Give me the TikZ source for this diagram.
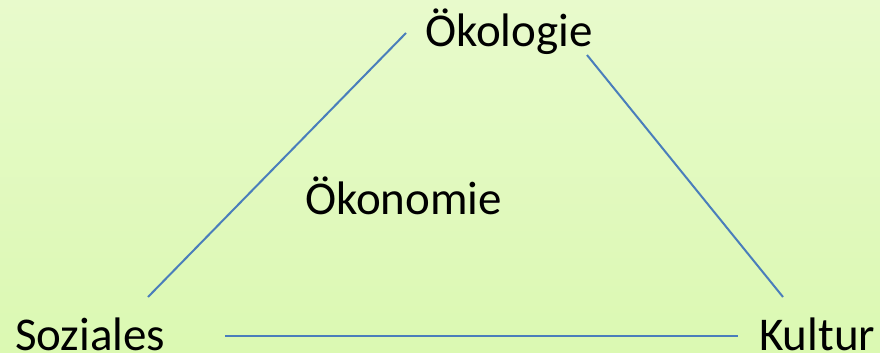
\documentclass[tikz,border=0pt]{standalone}
\usepackage{fontspec}
\setmainfont{Carlito}
\definecolor{bgtop}{RGB}{232,250,204}
\definecolor{bgbot}{RGB}{219,249,178}
\definecolor{linecol}{RGB}{74,126,187}
\begin{document}
\begin{tikzpicture}[x=1pt,y=-1pt,
  lbl/.style={inner sep=0pt,anchor=base west,font=\fontsize{47}{51}\selectfont,text=black},
  edge/.style={draw=linecol,line width=2pt}]
\shade[top color=bgtop,bottom color=bgbot] (0,0) rectangle (880,353);
\useasboundingbox (0,0) rectangle (880,353);
\node[lbl] (oekologie) at (425,47) {Ökologie};
\node[lbl] (oekonomie) at (305,214) {Ökonomie};
\node[lbl] (soziales) at (15,350) {Soziales};
\node[lbl] (kultur) at (759,350) {Kultur};
\coordinate (l1) at (148,297);
\coordinate (l2) at (406,33);
\coordinate (r1) at (587,55);
\coordinate (r2) at (783,297);
\coordinate (b1) at (225,336);
\coordinate (b2) at (738,336);
\draw[edge] (l1) -- (l2);
\draw[edge] (r1) -- (r2);
\draw[edge] (b1) -- (b2);
\end{tikzpicture}
\end{document}
